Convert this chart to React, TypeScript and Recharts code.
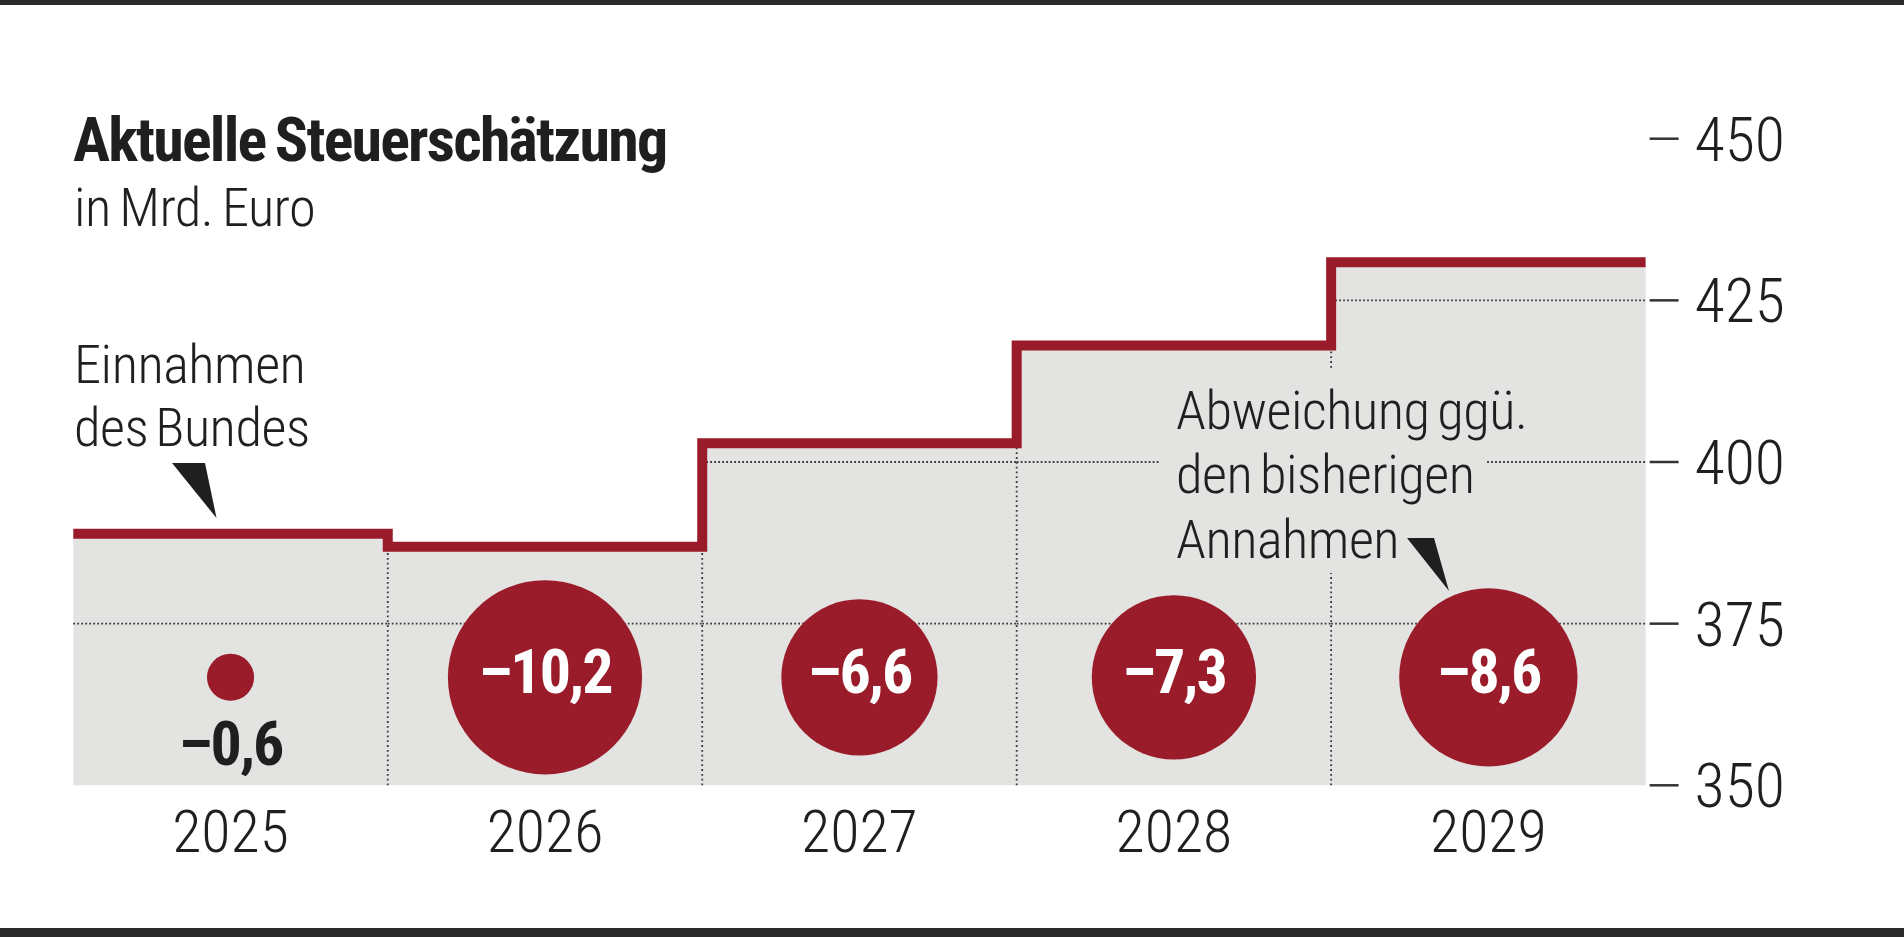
import React from 'react';
import { ComposedChart, Area, Line, Scatter, XAxis, YAxis, ReferenceLine } from 'recharts';

const YEARS = ['2025', '2026', '2027', '2028', '2029'];
const REVENUE = [388.9, 386.9, 402.9, 418.0, 430.9];
const DEVIATION = [-0.6, -10.2, -6.6, -7.3, -8.6];
const Y_TICKS = [350, 375, 400, 425, 450];
const GRID_VALUES = [375, 400, 425];
const X_TICKS = [0.5, 1.5, 2.5, 3.5, 4.5];

const W = 1904;
const H = 937;
const RED = '#9a1c2a';
const GRAY = '#e3e3e1';
const INK = '#1f1f1f';
const FONT = "'Roboto Condensed', 'Liberation Sans Narrow', Roboto, sans-serif";
const BUBBLE_Y = 366.7;
const BUBBLE_K = 30.4;

const stepData = REVENUE.map((v, i) => ({ x: i, rev: v })).concat([{ x: REVENUE.length, rev: REVENUE[REVENUE.length - 1] }]);
const bubbleData = DEVIATION.map((d, i) => ({ x: i + 0.5, y: BUBBLE_Y, dev: d }));

const fmt = (d: number) => (d < 0 ? '\u2013' : '') + Math.abs(d).toFixed(1).replace('.', ',');

const gridSegments: { g: number; i: number }[] = [];
GRID_VALUES.forEach((g) => {
  REVENUE.forEach((v, i) => {
    if (v > g) gridSegments.push({ g, i });
  });
});
const vSegments = REVENUE.slice(1).map((v, k) => ({ x: k + 1, top: Math.min(v, REVENUE[k]) }));

const Bubble = (props: any) => {
  const { cx, cy, payload } = props;
  const r = BUBBLE_K * Math.sqrt(Math.abs(payload.dev));
  const big = r > 40;
  return (
    <g>
      <circle cx={cx} cy={cy} r={r} fill={RED} />
      <text
        x={cx}
        y={big ? cy + 16 : cy + 88}
        textAnchor="middle"
        fontFamily={FONT}
        fontWeight={700}
        fontSize={62}
        letterSpacing={-2}
        fill={big ? '#ffffff' : INK}
      >
        {fmt(payload.dev)}
      </text>
    </g>
  );
};

const XTick = (props: any) => {
  const { x, y, payload } = props;
  return (
    <text x={x} y={y + 67} textAnchor="middle" fontFamily={FONT} fontWeight={300} fontSize={60} fill={INK}>
      {YEARS[Math.floor(payload.value)]}
    </text>
  );
};

const YTick = (props: any) => {
  const { x, y, payload } = props;
  return (
    <g>
      <line x1={x + 4} x2={x + 33} y1={y} y2={y} stroke="#333" strokeWidth={2.5} />
      <text x={x + 139.4} y={y + 22} textAnchor="end" fontFamily={FONT} fontWeight={300} fontSize={62} fill={INK}>
        {payload.value}
      </text>
    </g>
  );
};

export default function App() {
  return (
    <div style={{ position: 'absolute', left: 0, top: 0, width: W, height: H, background: '#fff', overflow: 'hidden' }}>
      <ComposedChart
        width={W}
        height={H}
        data={stepData}
        margin={{ top: 138.7, right: 0, bottom: 71.7, left: 73.3 }}
      >
        <XAxis
          type="number"
          dataKey="x"
          domain={[0, 5]}
          ticks={X_TICKS}
          axisLine={false}
          tickLine={false}
          tickSize={0}
          tickMargin={0}
          height={80}
          tick={<XTick />}
          interval={0}
        />
        <YAxis
          type="number"
          orientation="right"
          domain={[350, 450]}
          ticks={Y_TICKS}
          axisLine={false}
          tickLine={false}
          tickSize={0}
          tickMargin={0}
          width={258.4}
          tick={<YTick />}
          interval={0}
        />
        <Area
          type="stepAfter"
          dataKey="rev"
          fill={GRAY}
          fillOpacity={1}
          stroke="none"
          isAnimationActive={false}
          dot={false}
          activeDot={false}
        />
        {gridSegments.map((s, k) => (
          <ReferenceLine
            key={'h' + k}
            segment={[{ x: s.i, y: s.g }, { x: s.i + 1, y: s.g }]}
            stroke="#3a3a3a"
            strokeWidth={1.8}
            strokeDasharray="1.8 2.2"
            zIndex={150}
          />
        ))}
        {vSegments.map((s, k) => (
          <ReferenceLine
            key={'v' + k}
            segment={[{ x: s.x, y: 350 }, { x: s.x, y: s.top }]}
            stroke="#3a3a3a"
            strokeWidth={1.8}
            strokeDasharray="1.8 3"
            zIndex={150}
          />
        ))}
        <Line
          type="stepAfter"
          dataKey="rev"
          stroke={RED}
          strokeWidth={10}
          dot={false}
          activeDot={false}
          isAnimationActive={false}
        />
        <Scatter data={bubbleData} dataKey="y" shape={<Bubble />} isAnimationActive={false} />
      </ComposedChart>
      <svg
        width={W}
        height={H}
        style={{ position: 'absolute', left: 0, top: 0, pointerEvents: 'none' }}
      >
        <rect x={0} y={0} width={W} height={5} fill="#2a2a2a" />
        <rect x={0} y={928} width={W} height={9} fill="#2a2a2a" />
        <text x={73} y={160.7} fontFamily={FONT} fontWeight={700} fontSize={62} letterSpacing={-1.8} wordSpacing={-3} fill={INK}>
          Aktuelle Steuerschätzung
        </text>
        <text x={74} y={226} fontFamily={FONT} fontWeight={300} fontSize={54.5} letterSpacing={-0.6} wordSpacing={-3} fill={INK}>
          in Mrd. Euro
        </text>
        <text fontFamily={FONT} fontWeight={300} fontSize={54.5} letterSpacing={-0.5} wordSpacing={-5} fill={INK}>
          <tspan x={74} y={383}>Einnahmen</tspan>
          <tspan x={74} y={446}>des Bundes</tspan>
        </text>
        <polygon points="172,463 205,463 216.5,518" fill={INK} />
        <rect x={1159} y={370} width={326} height={203} fill={GRAY} />
        <text fontFamily={FONT} fontWeight={300} fontSize={54.5} letterSpacing={-0.5} wordSpacing={-4} fill={INK}>
          <tspan x={1176} y={429}>Abweichung ggü.</tspan>
          <tspan x={1176} y={493}>den bisherigen</tspan>
          <tspan x={1176} y={558}>Annahmen</tspan>
        </text>
        <polygon points="1407,538 1434,538 1449,591" fill={INK} />
      </svg>
    </div>
  );
}
